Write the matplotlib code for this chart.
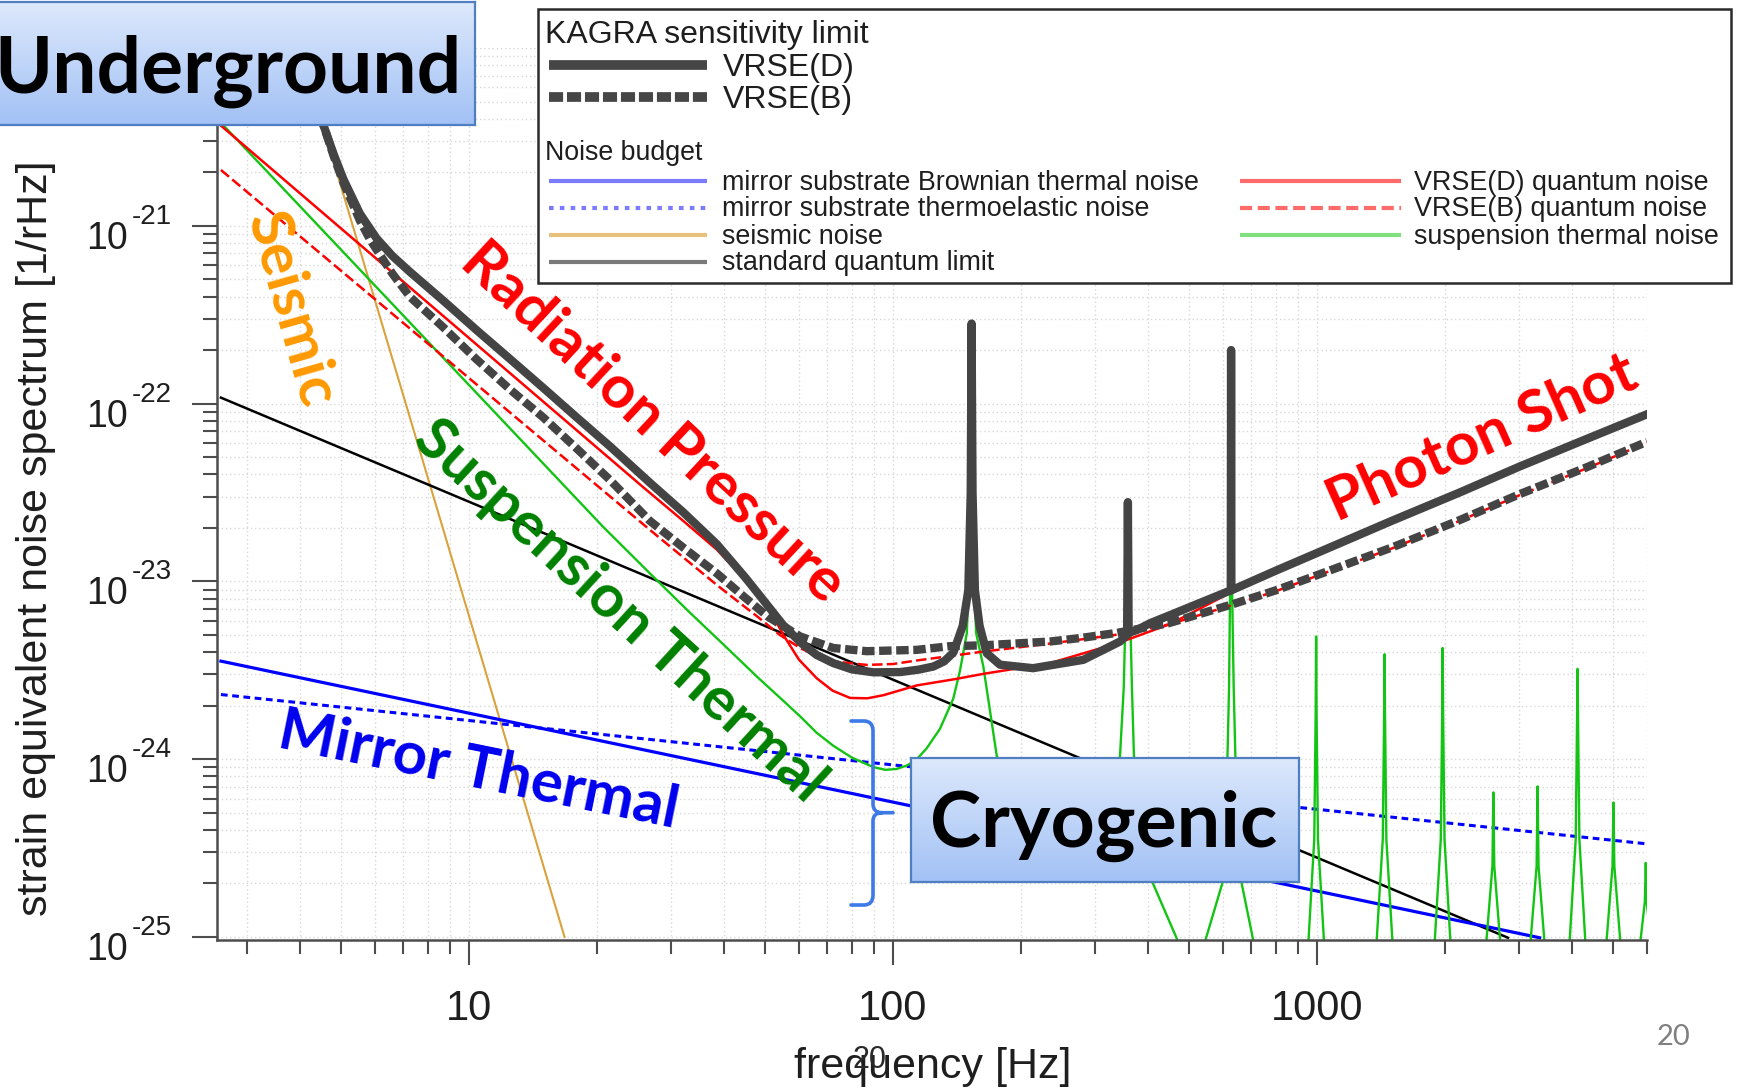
import numpy as np
import matplotlib
matplotlib.use("Agg")
import matplotlib.pyplot as plt
from matplotlib.lines import Line2D
from matplotlib.patches import Rectangle, PathPatch
from matplotlib.path import Path
from matplotlib.ticker import LogLocator, NullFormatter, FuncFormatter
from matplotlib.transforms import blended_transform_factory, offset_copy

# ---------------- data (frequency [Hz], strain [1/rHz]) ----------------
sql_f = [2.6, 2820]
sql_h = [1.08e-22, 9.9e-26]

seis_f = [3.9, 8.7, 16.8]
seis_h = [1.2e-20, 1.95e-23, 1.0e-25]

brown_f = [2.6, 3350]
brown_h = [3.56e-24, 9.9e-26]

te_f = [2.6, 6000]
te_h = [2.31e-24, 3.34e-25]

qD_f = [2.6, 25.7, 32, 38.4, 44, 48, 52, 55.1, 60, 66.1, 72, 79.2, 87, 94.9, 113.8, 140,
        163.4, 234.6, 337, 450, 629, 800, 1091, 1500, 2168, 3000, 4310, 6000]
qD_h = [3.66e-21, 3.40e-23, 2.19e-23, 1.51e-23, 1.07e-23, 8.51e-24, 6.46e-24, 5.01e-24,
        3.63e-24, 2.85e-24, 2.43e-24, 2.21e-24, 2.20e-24, 2.29e-24, 2.60e-24, 2.82e-24,
        3.02e-24, 3.47e-24, 4.47e-24, 5.75e-24, 8.71e-24, 1.12e-23, 1.57e-23, 2.16e-23,
        3.13e-23, 4.37e-23, 6.24e-23, 8.61e-23]

qB_f = [2.6, 26.7, 38.4, 44, 48, 54, 60.4, 66, 72.3, 86.7, 100, 113.8, 163.4, 234.6, 349,
        450, 627, 800, 1091, 1500, 2168, 3000, 4310, 6000]
qB_h = [2.06e-21, 1.95e-23, 9.55e-24, 7.41e-24, 6.31e-24, 5.01e-24, 4.22e-24, 3.80e-24,
        3.55e-24, 3.39e-24, 3.43e-24, 3.59e-24, 4.03e-24, 4.47e-24, 5.07e-24, 5.75e-24,
        7.33e-24, 8.81e-24, 1.16e-23, 1.53e-23, 2.19e-23, 3.05e-23, 4.31e-23, 6.03e-23]

susp_f = [2.6, 20.7, 26.7, 33, 40, 48, 55, 60.4, 66, 72.3, 80, 89.9, 96, 102, 108, 113.8,
          120, 129, 138.7, 143.9, 149.3, 151.8, 153.2, 154.6, 157, 163.3, 175.7, 210, 245,
          290, 330, 343, 350, 355, 358, 361, 366, 370, 407, 473, 542, 601, 612, 620, 624,
          627, 630, 636, 645, 659, 706, 760,
          940, 985, 992.5, 995, 997.5, 1005, 1055,
          1360, 1429, 1439.5, 1443, 1446.5, 1457, 1530,
          1865, 1958, 1973, 1978, 1983, 1998, 2095,
          2455, 2592, 2605, 2618, 2760,
          3120, 3295, 3312, 3329, 3510,
          3880, 4074, 4105, 4115, 4125, 4156, 4360,
          4715, 4975, 5000, 5025, 5300,
          5620, 5930, 5960, 5990, 6300]
susp_h = [3.80e-21, 2.03e-23, 1.11e-23, 6.76e-24, 4.37e-24, 2.88e-24, 2.14e-24, 1.74e-24,
          1.41e-24, 1.19e-24, 1.02e-24, 9.02e-25, 8.71e-25, 8.81e-25, 9.23e-25, 1.00e-24,
          1.15e-24, 1.48e-24, 2.19e-24, 3.16e-24, 5.12e-24, 1.58e-23, 2.82e-22, 1.58e-23,
          5.13e-24, 3.32e-24, 1.04e-24, 4.47e-25, 3.16e-25, 3.98e-25, 7.08e-25, 1.04e-24,
          2.51e-24, 1.0e-23, 2.75e-23, 1.0e-23, 2.51e-24, 1.04e-24, 2.09e-25, 9.12e-26,
          9.12e-26, 2.09e-25, 6.31e-25, 2.51e-24, 1.0e-23, 2.0e-22, 1.0e-23, 2.51e-24,
          6.31e-25, 2.19e-25, 9.77e-26, 5.0e-26,
          5e-26, 3.55e-25, 1.78e-24, 4.90e-24, 1.78e-24, 3.55e-25, 5e-26,
          5e-26, 3.55e-25, 1.78e-24, 3.89e-24, 1.78e-24, 3.55e-25, 5e-26,
          5e-26, 3.55e-25, 1.78e-24, 4.22e-24, 1.78e-24, 3.55e-25, 5e-26,
          5e-26, 2.51e-25, 6.50e-25, 2.51e-25, 5e-26,
          5e-26, 2.51e-25, 7.03e-25, 2.51e-25, 5e-26,
          5e-26, 3.55e-25, 1.78e-24, 3.22e-24, 1.78e-24, 3.55e-25, 5e-26,
          5e-26, 2.51e-25, 5.70e-25, 2.51e-25, 5e-26,
          5e-26, 1.58e-25, 2.61e-25, 1.58e-25, 5e-26]

totB_f = [3.9, 4.2, 4.53, 4.8, 5.06, 5.53, 5.85, 6.6, 7.26, 8.69, 10.4, 12.5, 15.0, 17.9,
          21.5, 26.7, 32, 38.4, 44.7, 50.8, 60.4, 72.3, 86.7, 113.8, 136, 163.4, 234.6, 276,
          337, 447, 629, 800, 1091, 1500, 2168, 3000, 4310, 6000]
totB_h = [1.2e-20, 6.76e-21, 3.72e-21, 2.45e-21, 1.74e-21, 1.07e-21, 8.32e-22, 5.37e-22,
          3.98e-22, 2.69e-22, 1.78e-22, 1.20e-22, 8.32e-23, 5.62e-23, 3.72e-23, 2.19e-23,
          1.55e-23, 1.11e-23, 8.13e-24, 6.31e-24, 4.90e-24, 4.22e-24, 4.05e-24, 4.12e-24,
          4.32e-24, 4.37e-24, 4.59e-24, 4.80e-24, 5.13e-24, 5.82e-24, 7.41e-24, 8.91e-24,
          1.17e-23, 1.55e-23, 2.21e-23, 3.09e-23, 4.37e-23, 6.10e-23]

totD_f = [3.9, 4.2, 4.53, 4.8, 5.06, 5.53, 6.05, 6.6, 7.26, 8.69, 10.4, 12.5, 15.0, 17.9,
          21.5, 26.7, 32, 38.4, 45, 50, 55, 60.4, 66, 72.3, 80, 90, 104, 115, 124.5, 132,
          138.8, 146, 150.5, 152.5, 153.2, 154, 156, 160, 166.4, 178.7, 214, 281, 343, 356.5,
          358, 359.5, 376, 404, 450, 626, 627, 628, 800, 1091, 1500, 2168, 3000, 4310, 6000]
totD_h = [1.2e-20, 6.76e-21, 3.72e-21, 2.51e-21, 1.82e-21, 1.17e-21, 8.51e-22, 6.76e-22,
          5.50e-22, 3.80e-22, 2.60e-22, 1.78e-22, 1.22e-22, 8.41e-23, 5.75e-23, 3.59e-23,
          2.45e-23, 1.62e-23, 1.04e-23, 7.59e-24, 5.70e-24, 4.55e-24, 3.86e-24, 3.47e-24,
          3.20e-24, 3.08e-24, 3.09e-24, 3.19e-24, 3.32e-24, 3.55e-24, 3.98e-24, 5.62e-24,
          8.91e-24, 3.16e-23, 2.82e-22, 3.16e-23, 8.91e-24, 5.62e-24, 3.94e-24, 3.40e-24,
          3.25e-24, 3.62e-24, 4.59e-24, 5.01e-24, 2.79e-23, 5.13e-24, 5.33e-24, 5.82e-24,
          6.46e-24, 8.91e-24, 2.0e-22, 8.91e-24, 1.15e-23, 1.58e-23, 2.19e-23, 3.16e-23,
          4.42e-23, 6.31e-23, 8.71e-23]

y_exponents = [-25, -24, -23, -22, -21]

legend_top = ["VRSE(D)", "VRSE(B)"]
legend_left = ["mirror substrate Brownian thermal noise", "mirror substrate thermoelastic noise",
               "seismic noise", "standard quantum limit"]
legend_right = ["VRSE(D) quantum noise", "VRSE(B) quantum noise", "suspension thermal noise"]

# ---------------- figure ----------------
W, H, DPI = 1741, 1089, 100
AX_FONT = ["Liberation Sans", "DejaVu Sans"]
SLIDE_FONT = ["Lato", "DejaVu Sans"]
plt.rcParams["font.family"] = AX_FONT
TXT = "#1e1e1e"


def fx(px):
    return px / W


def fy(py):
    return 1.0 - py / H


fig = plt.figure(figsize=(W / DPI, H / DPI), dpi=DPI)
fig.patch.set_facecolor("white")
ax = fig.add_axes([fx(217), fy(940), fx(1647) - fx(217), fy(48) - fy(940)])
ax.set_xscale("log")
ax.set_yscale("log")
ax.set_xlim(2.545, 6000)
ax.set_ylim(10 ** -25.017, 1e-20)

ax.grid(True, which="both", color="#d8d8d8", linestyle=(0, (1, 2)), linewidth=1.0)
ax.set_axisbelow(True)

ax.plot(seis_f, seis_h, color="#d9a23c", lw=1.5, zorder=2)
ax.plot(sql_f, sql_h, color="black", lw=1.8, zorder=2)
ax.plot(te_f, te_h, color="#0000ff", lw=2.2, dashes=(2.2, 1.5), zorder=2)
ax.plot(brown_f, brown_h, color="#0000ff", lw=2.3, zorder=2)
ax.plot(susp_f, susp_h, color="#14c414", lw=1.7, zorder=2.1)
ax.plot(qD_f, qD_h, color="#ff0000", lw=1.8, zorder=2.2)
ax.plot(qB_f, qB_h, color="#ff0000", lw=1.8, dashes=(4.2, 1.7), zorder=2.2)
ax.plot(totB_f, totB_h, color="#444444", lw=6.0, dashes=(1.5, 0.55), zorder=3)
ax.plot(totD_f, totD_h, color="#444444", lw=6.0, zorder=3.1)

for s in ["top", "right"]:
    ax.spines[s].set_visible(False)
for s in ["left", "bottom"]:
    ax.spines[s].set_color("#4d4d4d")
    ax.spines[s].set_linewidth(1.8)

for axis in (ax.xaxis, ax.yaxis):
    axis.set_major_locator(LogLocator(base=10, numticks=12))
    axis.set_minor_locator(LogLocator(base=10, subs=np.arange(2, 10), numticks=12))
    axis.set_minor_formatter(NullFormatter())
ax.xaxis.set_major_formatter(FuncFormatter(lambda v, p: "%d" % round(v)))
ax.yaxis.set_major_formatter(NullFormatter())
ax.tick_params(axis="both", which="major", direction="out", length=18, width=1.5,
               color="#4d4d4d", labelsize=30, labelcolor=TXT, pad=17)
ax.tick_params(axis="both", which="minor", direction="out", length=10, width=1.5,
               color="#4d4d4d")

# y tick labels: 10 with raised exponent
ytrans = blended_transform_factory(fig.transFigure, ax.transData)
for e in y_exponents:
    fig.text(fx(128), 10.0 ** e, "10", transform=offset_copy(ytrans, x=0, y=-23, units="dots"),
             ha="right", va="baseline", fontsize=27, color=TXT)
    fig.text(fx(132), 10.0 ** e, "-%d" % (-e), transform=offset_copy(ytrans, x=0, y=2, units="dots"),
             ha="left", va="baseline", fontsize=20, color=TXT)

fig.text(fx(933), fy(1078), "frequency [Hz]", ha="center", va="baseline", fontsize=31, color=TXT)
fig.text(fx(36), fy(538.5), "strain equivalent noise spectrum [1/rHz]", rotation=90,
         ha="center", va="center", fontsize=31, color=TXT)

# ---------------- legend ----------------
fig.add_artist(Rectangle((fx(538), fy(283)), fx(1731) - fx(538), fy(9) - fy(283),
                         transform=fig.transFigure, facecolor="white", edgecolor="#2a2a2a",
                         lw=1.8, zorder=5))


def key(x0, x1, y, **kw):
    fig.add_artist(Line2D([fx(x0), fx(x1)], [fy(y), fy(y)], transform=fig.transFigure,
                          zorder=6, **kw))


def label(x, y, s, size):
    fig.text(fx(x), fy(y), s, ha="left", va="baseline", fontsize=size, color=TXT, zorder=7)


label(545, 43, "KAGRA sensitivity limit", 23)
key(549, 707, 65, color="#464646", lw=7, solid_capstyle="butt")
label(723, 76, legend_top[0], 23)
key(549, 707, 97, color="#464646", lw=7, dashes=(1.45, 0.4), dash_capstyle="butt")
label(723, 108, legend_top[1], 23)
label(545, 160, "Noise budget", 19.3)

rows = [181, 208, 235, 262]
left_styles = [dict(color="#7b7bff", lw=3), dict(color="#7b7bff", lw=3, dashes=(1.1, 1.5)),
               dict(color="#e8c27d", lw=3), dict(color="#7a7a7a", lw=3)]
for y, s, st in zip(rows, legend_left, left_styles):
    key(549, 707, y, solid_capstyle="butt", **st)
    label(721.5, y + 8.5, s, 19.4)
right_styles = [dict(color="#ff6b6b", lw=3), dict(color="#ff6b6b", lw=3, dashes=(2.9, 1.35)),
                dict(color="#7fe07f", lw=3)]
for y, s, st in zip(rows, legend_right, right_styles):
    key(1240, 1401, y, solid_capstyle="butt", **st)
    label(1414, y + 8.5, s, 19.4)


# ---------------- slide overlays ----------------
def grad_box(x0, y0, x1, y1):
    bax = fig.add_axes([fx(x0), fy(y1), fx(x1) - fx(x0), fy(y0) - fy(y1)], zorder=10)
    top = np.array([0xdd, 0xe9, 0xfc]) / 255.0
    bot = np.array([0xa2, 0xc1, 0xf5]) / 255.0
    t = np.linspace(0, 1, 256)[:, None, None]
    bax.imshow(top * (1 - t) + bot * t, aspect="auto", extent=[0, 1, 0, 1],
               interpolation="bilinear")
    bax.set_xticks([])
    bax.set_yticks([])
    for sp in bax.spines.values():
        sp.set_edgecolor("#4f7fc0")
        sp.set_linewidth(1.6)
    return bax


grad_box(-3, 2, 475, 125)
grad_box(911, 758, 1299, 882)
fig.text(fx(-6), fy(93), "Underground", ha="left", va="baseline", fontsize=56.5,
         fontweight="bold", family=SLIDE_FONT, color="black", zorder=21)
fig.text(fx(1104), fy(847), "Cryogenic", ha="center", va="baseline", fontsize=55.5,
         fontweight="bold", family=SLIDE_FONT, color="black", zorder=21)

callouts = [("Seismic", 291, 310, -74, "#ff9900"),
            ("Radiation Pressure", 653, 423, -42.9, "#ff0000"),
            ("Suspension Thermal", 620, 611, -42.5, "#008000"),
            ("Mirror Thermal", 478.6, 770.6, -11.5, "#0000ee"),
            ("Photon Shot", 1482, 438.6, 24, "#ff0000")]
for s, x, y, r, c in callouts:
    fig.text(fx(x), fy(y), s, rotation=r, rotation_mode="anchor", ha="center", va="center",
             fontsize=43, fontweight="bold", family=SLIDE_FONT, color=c, zorder=15)

# curly bracket
bv = [(851, 721), (864, 721), (873, 721), (873, 731), (873, 804), (873, 812.7), (882, 812.7),
      (893, 812.7), (882, 812.7), (873, 812.7), (873, 821), (873, 895), (873, 905), (864, 905),
      (851, 905)]
bc = [Path.MOVETO, Path.LINETO, Path.CURVE3, Path.CURVE3, Path.LINETO, Path.CURVE3, Path.CURVE3,
      Path.LINETO, Path.MOVETO, Path.CURVE3, Path.CURVE3, Path.LINETO, Path.CURVE3, Path.CURVE3,
      Path.LINETO]
fig.add_artist(PathPatch(Path([(fx(a), fy(b)) for a, b in bv], bc), transform=fig.transFigure,
                         fill=False, edgecolor="#3d7ae8", lw=2.6, capstyle="round",
                         joinstyle="round", zorder=20))

fig.text(fx(869), fy(1068), "20", ha="center", va="baseline", fontsize=22, color="#2a2a2a",
         zorder=22)
fig.text(fx(1673), fy(1045), "20", ha="center", va="baseline", fontsize=21, color="#7f7f7f",
         family=SLIDE_FONT, zorder=22)

fig.savefig("out.png", dpi=DPI)
